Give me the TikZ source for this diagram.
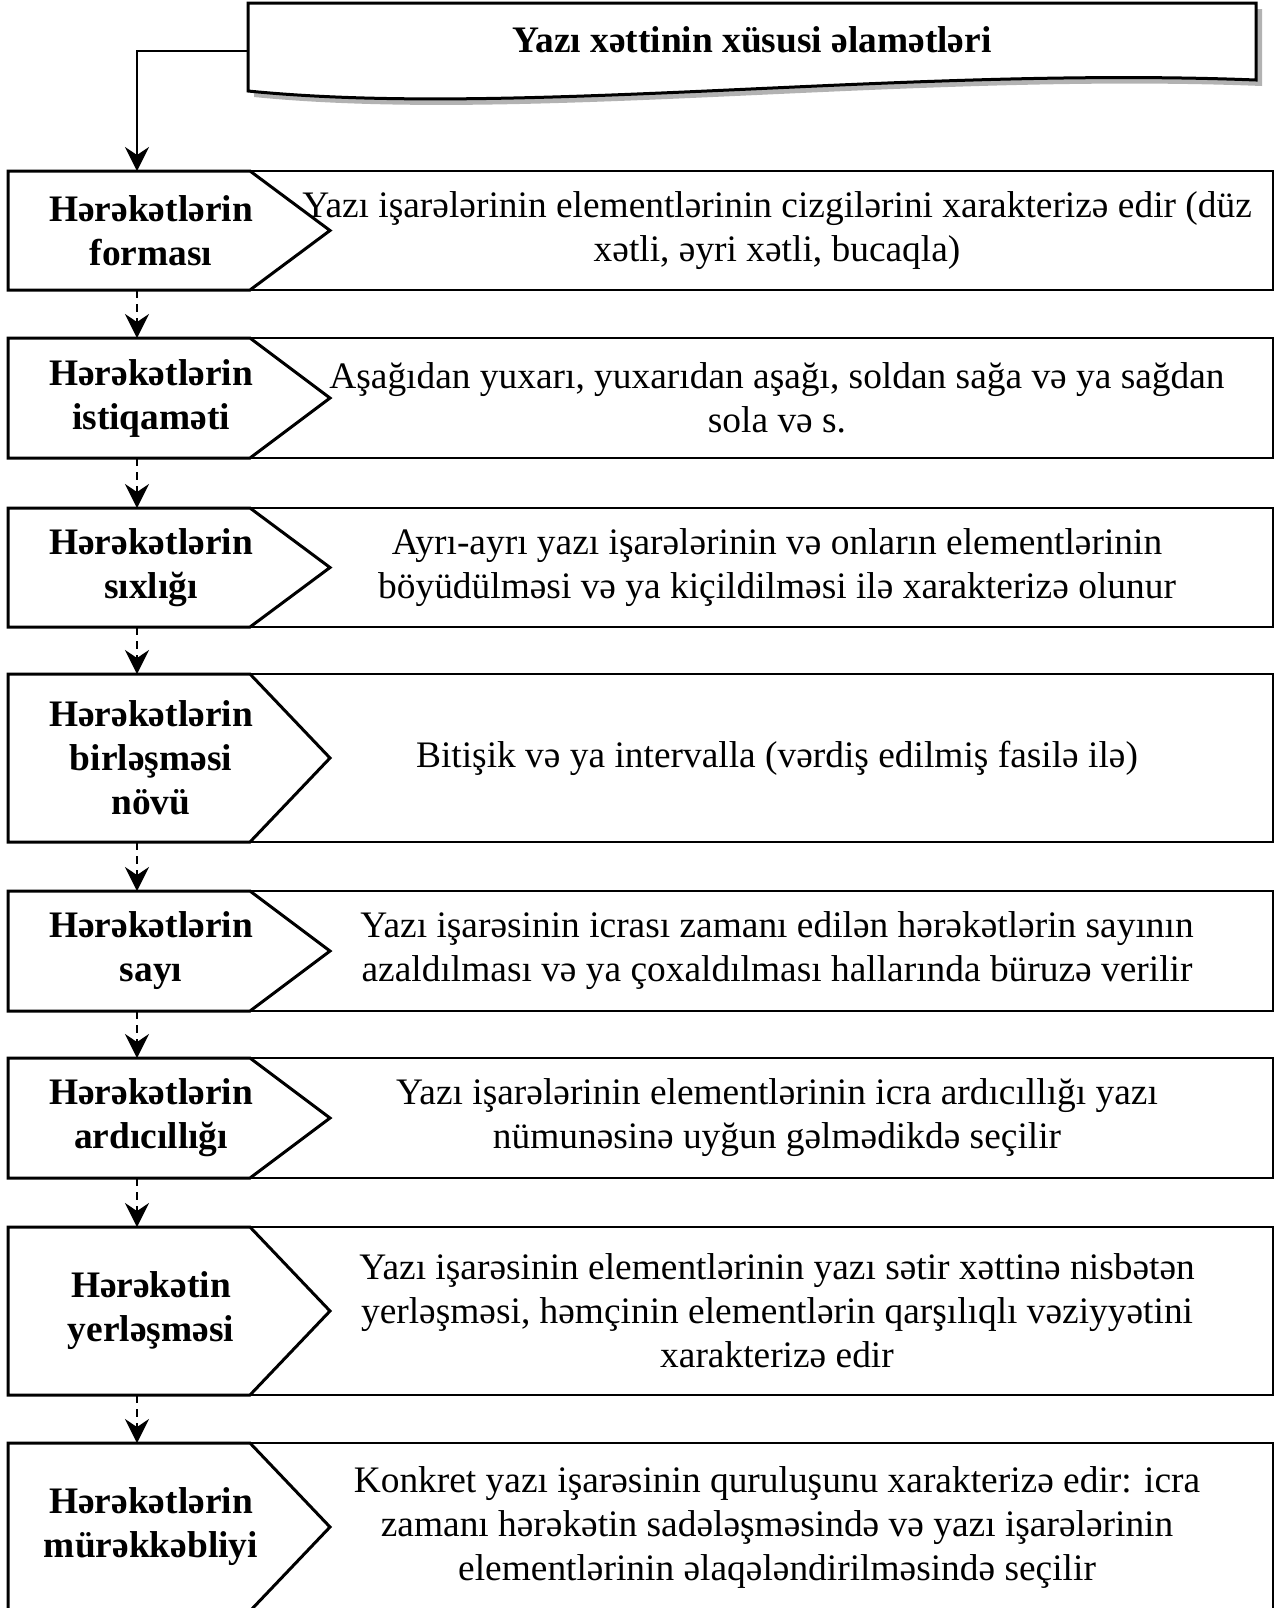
\documentclass[tikz,border=0pt]{standalone}
\usepackage{fontspec}
\setmainfont{Liberation Serif}
\usetikzlibrary{arrows.meta}

\tikzset{
  lbl/.style={font=\fontsize{18.7}{22}\selectfont\bfseries, align=center},
  desc/.style={font=\fontsize{18.7}{22}\selectfont, align=center},
  pent/.style={draw, line width=1.5pt, fill=white},
  descbox/.style={draw, line width=0.75pt},
  conn/.style={line width=0.8pt, -{Stealth[length=12pt,width=12pt,inset=4pt]}},
  dasharr/.style={conn, dash pattern=on 4pt off 3pt}
}

\begin{document}
\begin{tikzpicture}[x=0.5pt,y=-0.5pt]
\useasboundingbox (0,0) rectangle (1283,1608);

% title box with shadow
\fill[gray!60] (254,9) -- (1262,9) -- (1262,86) .. controls (906,72) and (526,124) .. (254,97) -- cycle;
\draw[fill=white, line width=1.5pt] (248,3) -- (1256,3) -- (1256,80) .. controls (900,66) and (520,118) .. (248,91) -- cycle;
\node[lbl] (title) at (752,40) {Yazı xəttinin xüsusi əlamətləri};
\coordinate (tw) at (248,51);

% rows
\foreach \i/\yt/\hh/\lab/\txt in {
  1/171/119/{Hərəkətlərin\\forması}/{Yazı işarələrinin elementlərinin cizgilərini xarakterizə edir (düz\\xətli, əyri xətli, bucaqla)},
  2/338/120/{Hərəkətlərin\\istiqaməti}/{Aşağıdan yuxarı, yuxarıdan aşağı, soldan sağa və ya sağdan\\sola və s.},
  3/508/119/{Hərəkətlərin\\sıxlığı}/{Ayrı-ayrı yazı işarələrinin və onların elementlərinin\\böyüdülməsi və ya kiçildilməsi ilə xarakterizə olunur},
  4/674/168/{Hərəkətlərin\\birləşməsi\\növü}/{Bitişik və ya intervalla (vərdiş edilmiş fasilə ilə)},
  5/891/120/{Hərəkətlərin\\sayı}/{Yazı işarəsinin icrası zamanı edilən hərəkətlərin sayının\\azaldılması və ya çoxaldılması hallarında büruzə verilir},
  6/1058/120/{Hərəkətlərin\\ardıcıllığı}/{Yazı işarələrinin elementlərinin icra ardıcıllığı yazı\\nümunəsinə uyğun gəlmədikdə seçilir},
  7/1227/168/{Hərəkətin\\yerləşməsi}/{Yazı işarəsinin elementlərinin yazı sətir xəttinə nisbətən\\yerləşməsi, həmçinin elementlərin qarşılıqlı vəziyyətini\\xarakterizə edir},
  8/1443/168/{Hərəkətlərin\\mürəkkəbliyi}/{Konkret yazı işarəsinin quruluşunu xarakterizə edir: icra\\zamanı hərəkətin sadələşməsində və yazı işarələrinin\\elementlərinin əlaqələndirilməsində seçilir}}{
  \pgfmathsetmacro{\yb}{\yt+\hh}
  \pgfmathsetmacro{\yc}{\yt+\hh/2}
  \draw[descbox] (250,\yt) rectangle (1273,\yb);
  \draw[pent] (8,\yt) -- (250,\yt) -- (330,\yc) -- (250,\yb) -- (8,\yb) -- cycle;
  \node[lbl] (l\i) at (151,\yc) {\lab};
  \node[desc] (d\i) at (777,\yc) {\txt};
  \coordinate (n\i) at (137,\yt);
  \coordinate (s\i) at (137,\yb);
}

% connectors
\draw[conn] (tw) -| (n1);
\foreach \i [evaluate=\i as \j using int(\i+1)] in {1,...,7}
  \draw[dasharr] (s\i) -- (n\j);
\end{tikzpicture}
\end{document}
